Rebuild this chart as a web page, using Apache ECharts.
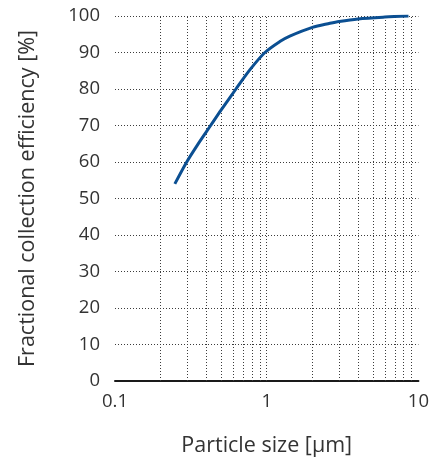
<!DOCTYPE html>
<html>
<head>
<meta charset="utf-8">
<script src="https://cdn.jsdelivr.net/npm/echarts@6/dist/echarts.min.js"></script>
<style>
  html, body { margin: 0; padding: 0; background: #ffffff; }
  #chart { width: 432px; height: 462px; }
</style>
</head>
<body>
<div id="chart"></div>
<script>
// Particle size [µm] and fractional collection efficiency [%]
const particleSize = [0.248, 0.297, 0.35, 0.427, 0.5, 0.627, 0.776, 0.973, 1.22, 1.42, 2, 2.61, 3, 4, 6, 8.6];
const efficiency   = [54, 60, 64.7, 70, 74.2, 80, 85.3, 90, 93, 94.5, 96.9, 98, 98.5, 99.2, 99.7, 100];

// Vertical grid lines at 2..9 of each decade plus 1
const minorGridX = [0.2, 0.3, 0.4, 0.5, 0.6, 0.7, 0.8, 0.9, 1, 2, 3, 4, 5, 6, 7, 8, 9];
const xTickLabels = { 0.1: '0.1', 1: '1', 10: '10' };

const FONT = '"Open Sans", "Noto Sans", sans-serif';
const TEXT = '#333333';

const chart = echarts.init(document.getElementById('chart'), null, { renderer: 'canvas' });

chart.setOption({
  animation: false,
  backgroundColor: '#ffffff',
  grid: { left: 115, right: 13, top: 16, bottom: 80, containLabel: false },
  xAxis: {
    type: 'log',
    logBase: 10,
    min: 0.1,
    max: 10,
    name: 'Particle size [µm]',
    nameLocation: 'middle',
    nameGap: 54,
    nameTextStyle: { fontFamily: FONT, fontSize: 21.5, color: TEXT },
    axisLine: { show: true, lineStyle: { color: '#1a1a1a', width: 2 } },
    axisTick: { show: false },
    splitLine: { show: false },
    minorSplitLine: { show: false },
    axisLabel: {
      fontFamily: FONT, fontSize: 18.5, color: TEXT, margin: 11,
      formatter: v => xTickLabels[Math.round(v * 10) / 10] ?? ''
    }
  },
  yAxis: {
    type: 'value',
    min: 0,
    max: 100,
    interval: 10,
    name: 'Fractional collection efficiency [%]',
    nameLocation: 'middle',
    nameGap: 76,
    nameTextStyle: { fontFamily: FONT, fontSize: 21.5, color: TEXT },
    axisLine: { show: false },
    axisTick: { show: false },
    axisLabel: { fontFamily: FONT, fontSize: 18.5, color: TEXT, margin: 15 },
    splitLine: { show: true, lineStyle: { color: '#3c3c3c', width: 1, type: [1, 2] } }
  },
  series: [{
    type: 'line',
    data: particleSize.map((x, i) => [x, efficiency[i]]),
    smooth: 0.3,
    symbol: 'none',
    lineStyle: { color: '#0b4f92', width: 3 },
    z: 5,
    markLine: {
      silent: true,
      symbol: ['none', 'none'],
      label: { show: false },
      lineStyle: { color: '#3c3c3c', width: 1, type: [1, 2] },
      z: 1,
      data: minorGridX.map(v => ({ xAxis: v }))
    }
  }]
});
</script>
</body>
</html>
